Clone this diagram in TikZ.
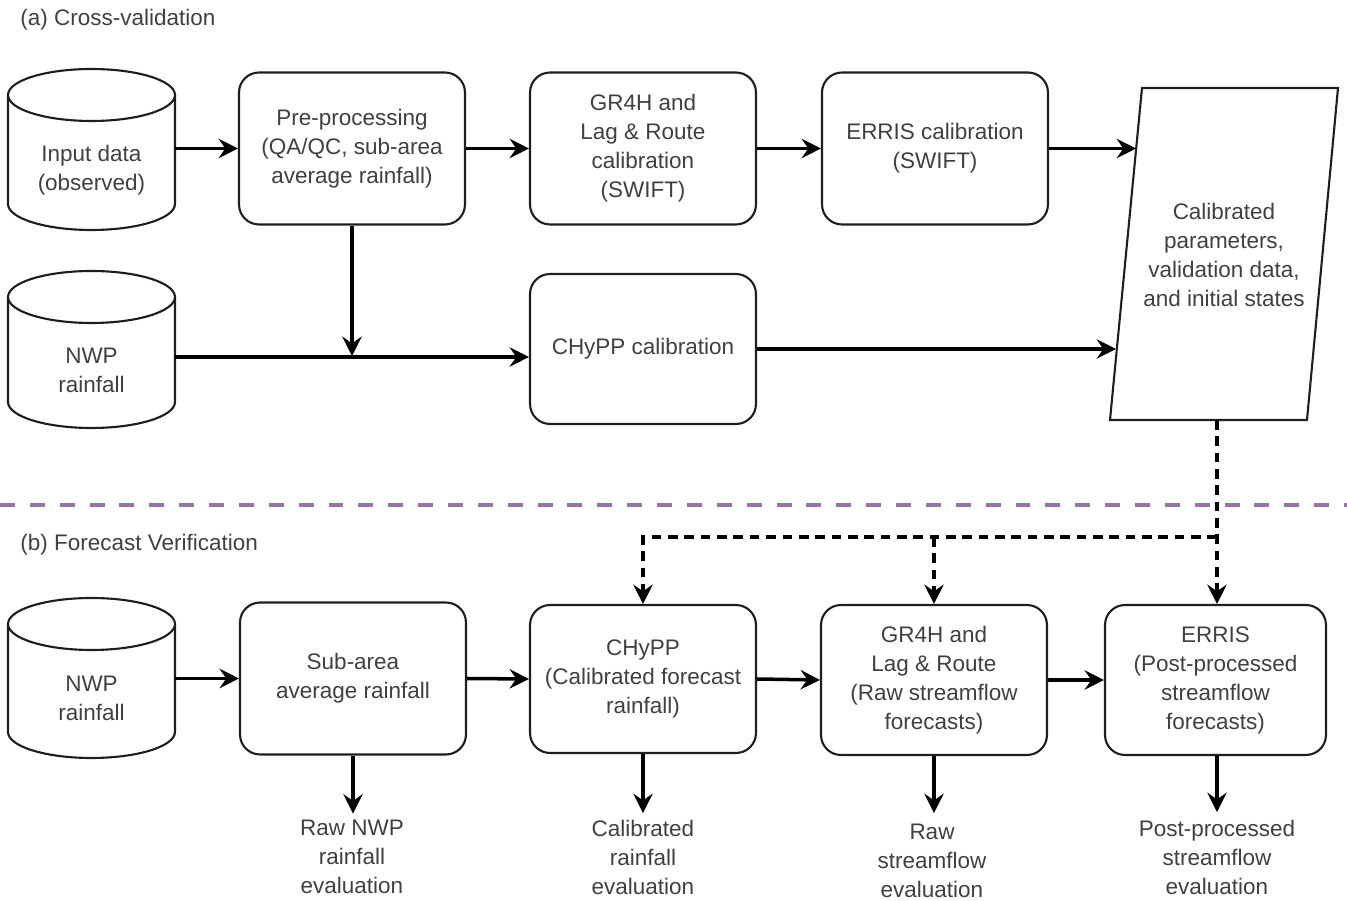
\documentclass[tikz,border=0pt]{standalone}
\usepackage{fontspec}
\setmainfont{Liberation Sans}
\usetikzlibrary{arrows.meta}
\definecolor{txt}{HTML}{404040}
\definecolor{edge}{HTML}{1E1E1E}
\definecolor{purp}{HTML}{9673A6}
\tikzset{
  lbl/.style={text=txt, align=center, font=\fontsize{12.8}{16.5}\selectfont, inner sep=0pt},
  ttl/.style={text=txt, font=\fontsize{12.8}{16.5}\selectfont, inner sep=0pt, anchor=west},
  proc/.style={lbl, draw=edge, line width=1.2pt, rounded corners=0.4cm, fill=white,
    minimum width=4.52cm, minimum height=3.04cm},
  cylarea/.style={draw=none, minimum width=3.34cm, minimum height=3.2cm, inner sep=0pt},
  cylline/.style={draw=edge, line width=1.2pt},
  arr/.style={draw=black, line width=2pt, -{Stealth[length=11pt,width=11pt,inset=3.8pt]}},
  darr/.style={arr, dash pattern=on 5.5pt off 3.8pt},
  sepline/.style={draw=purp, line width=2.4pt, dash pattern=on 8.5pt off 8.5pt},
}
\newcommand\drawcyl[3]{%
  \draw[cylline, fill=white] ({#1-83.5},#2) -- ({#1-83.5},#3)
    arc[start angle=180,end angle=360,x radius=1.67cm,y radius=0.52cm] -- ({#1+83.5},#2);
  \draw[cylline, fill=white] (#1,#2) ellipse[x radius=1.67cm,y radius=0.52cm];}
\begin{document}
\begin{tikzpicture}[x=0.02cm,y=-0.02cm]
\useasboundingbox (0,0) rectangle (1347,901);

% ---------- (a) Cross-validation ----------
\node[ttl] (ta) at (20,20) {(a) Cross-validation};

\drawcyl{91.5}{95}{204}
\node[cylarea] (cyl1) at (91.5,149.5) {};
\node[lbl] (cyl1t) at (91.5,170) {Input data\\(observed)};

\drawcyl{91.5}{297}{402}
\node[cylarea] (cyl2) at (91.5,349) {};
\node[lbl] (cyl2t) at (91.5,370) {NWP\\rainfall};

\node[proc] (pp) at (352,148.5) {Pre-processing\\(QA/QC, sub-area\\average rainfall)};
\node[proc] (gr) at (643,148.5) {GR4H and\\Lag \& Route\\calibration\\(SWIFT)};
\node[proc] (ec) at (935,148.5) {ERRIS calibration\\(SWIFT)};
\node[proc, minimum height=3.0cm] (ch) at (643,349) {CHyPP calibration};

\draw[draw=edge, line width=1.2pt, fill=white] (1142,88) -- (1338,88) -- (1307,420) -- (1110,420) -- cycle;
\node[lbl] (cp) at (1224,255) {Calibrated\\parameters,\\validation data,\\and initial states};
\coordinate (cpin1) at (1136,148.5);
\coordinate (cpin2) at (1116,349);
\coordinate (cpout) at (1217,420);
\coordinate (ppj) at (352,356);

\draw[arr] (cyl1.east |- pp.west) -- (pp.west);
\draw[arr] (pp.east) -- (gr.west);
\draw[arr] (gr.east) -- (ec.west);
\draw[arr] (ec.east) -- (cpin1);
\draw[arr] (pp.south) -- (ppj);
\draw[arr] (cyl2.east |- 0,357) -- (ch.west |- 0,357);
\draw[arr] (ch.east) -- (cpin2);

% ---------- separator ----------
\coordinate (sl) at (0,505);
\coordinate (sr) at (1347,505);
\draw[sepline] (sl) -- (sr);

% ---------- (b) Forecast Verification ----------
\node[ttl] (tb) at (20,545) {(b) Forecast Verification};

\drawcyl{91.5}{624}{732}
\node[cylarea] (cyl3) at (91.5,678) {};
\node[lbl] (cyl3t) at (91.5,698) {NWP\\rainfall};

\node[proc] (sa) at (353,678.5) {Sub-area\\average rainfall};
\node[proc, minimum height=2.96cm] (ch2) at (643,679) {CHyPP\\(Calibrated forecast\\rainfall)};
\node[proc, minimum height=3.0cm] (gr2) at (934,680) {GR4H and\\Lag \& Route\\(Raw streamflow\\forecasts)};
\node[proc, minimum width=4.42cm, minimum height=3.0cm] (er2) at (1215.5,680) {ERRIS\\(Post-processed\\streamflow\\forecasts)};

\node[lbl] (e1) at (352,857) {Raw NWP\\rainfall\\evaluation};
\node[lbl] (e2) at (643,857) {Calibrated\\rainfall\\evaluation};
\node[lbl] (e3) at (932,861) {Raw\\streamflow\\evaluation};
\node[lbl] (e4) at (1217,857) {Post-processed\\streamflow\\evaluation};

\draw[arr] (cyl3.east |- sa.west) -- (sa.west);
\draw[arr] (sa.east) -- (ch2.west);
\draw[arr] (ch2.east) -- (gr2.west);
\draw[arr] (gr2.east) -- (er2.west);

\draw[arr] (sa.south) -- ++(0,58);
\draw[arr] (ch2.south) -- ++(0,59);
\draw[arr] (gr2.south) -- ++(0,57);
\draw[arr] (er2.south -| cpout) -- ++(0,56);

\coordinate (dj) at (1217,537);
\draw[darr] (cpout) -- (cpout |- er2.north);
\draw[darr] (dj) -- (ch2.north |- dj) -- (ch2.north);
\draw[darr] (gr2.north |- dj) -- (gr2.north);
\end{tikzpicture}
\end{document}
